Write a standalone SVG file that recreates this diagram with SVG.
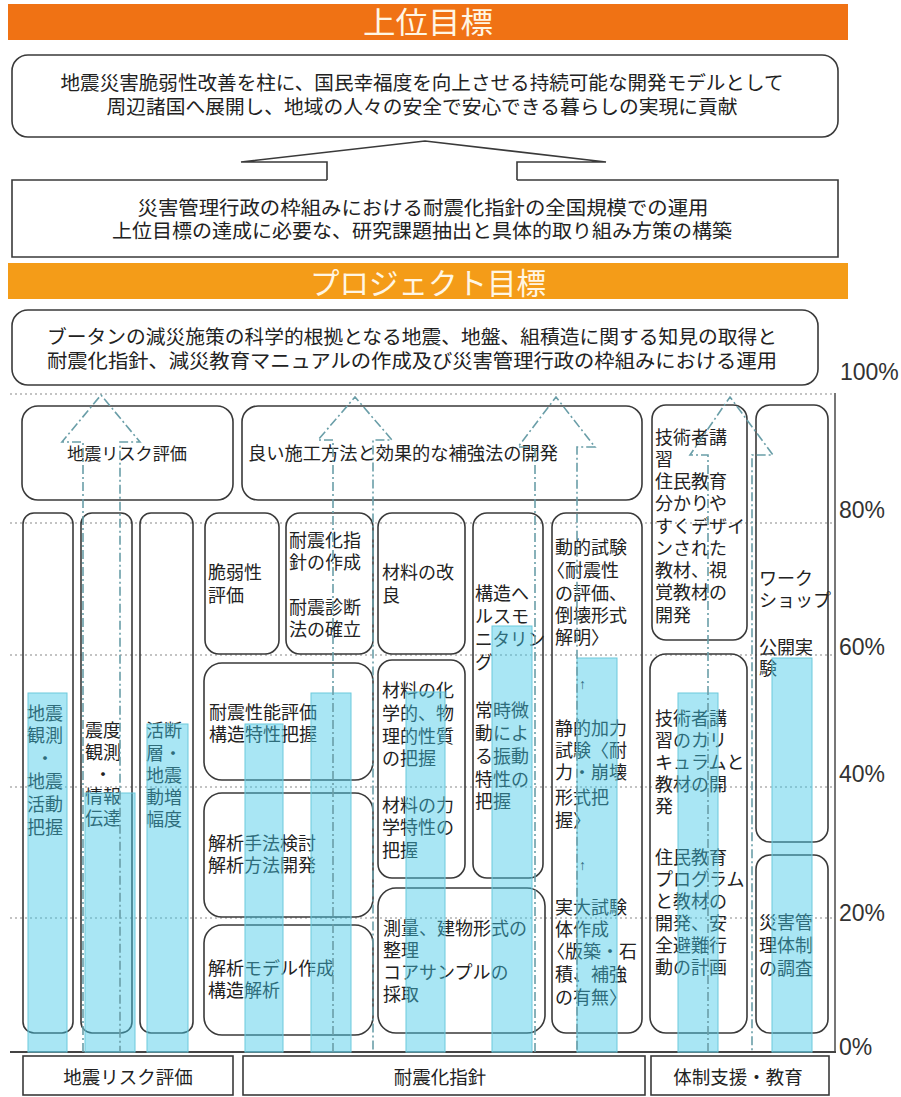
<svg xmlns="http://www.w3.org/2000/svg" width="901" height="1097" viewBox="0 0 901 1097">
<style>
.t{font-family:"Liberation Sans","Noto Sans CJK JP","Noto Sans CJK SC",sans-serif;fill:#222;}
.big{font-size:19.5px;text-anchor:middle;}
.hd{font-family:"Liberation Sans","Noto Sans CJK JP",sans-serif;font-size:30px;fill:#fff6e4;text-anchor:middle;}
.c{font-size:18px;}
.box{fill:none;stroke:#3a3a3a;stroke-width:1.6;}
.sq{fill:#fff;stroke:#3a3a3a;stroke-width:1.6;}
.grid{stroke:#b0b0b0;stroke-width:1.5;stroke-dasharray:2 3;fill:none;}
.bar{fill:#40c8e6;fill-opacity:0.45;stroke:#6cc9dc;stroke-width:1;}
.dd{fill:none;stroke:#6a9ea8;stroke-width:1.6;stroke-dasharray:9 3 2 3;}
.pct{font-family:"Liberation Sans",Arial,sans-serif;font-size:23px;fill:#333;}
.ar{font-size:14px;}
</style>
<rect width="901" height="1097" fill="#fff"/>

<g id="upper-header">
<rect x="8" y="4" width="840" height="36" fill="#f07214"/>
<text class="hd" x="428" y="33" textLength="130" lengthAdjust="spacingAndGlyphs">上位目標</text>
</g>

<g id="upper-goal">
<rect class="box" x="12" y="55" width="826" height="82" rx="16"/>
<text class="t big"><tspan x="422" y="90" textLength="723" lengthAdjust="spacingAndGlyphs">地震災害脆弱性改善を柱に、国民幸福度を向上させる持続可能な開発モデルとして</tspan><tspan x="422" y="114" textLength="631" lengthAdjust="spacingAndGlyphs">周辺諸国へ展開し、地域の人々の安全で安心できる暮らしの実現に貢献</tspan></text>
</g>

<g id="middle-goal">
<path class="box" d="M327,180 H12 V257 H838 V180 H517"/>
<text class="t big" font-size="20"><tspan x="423" y="215" textLength="571" lengthAdjust="spacingAndGlyphs">災害管理行政の枠組みにおける耐震化指針の全国規模での運用</tspan><tspan x="422" y="238" textLength="620" lengthAdjust="spacingAndGlyphs">上位目標の達成に必要な、研究課題抽出と具体的取り組み方策の構築</tspan></text>
</g>

<g id="project-header">
<rect x="8" y="263" width="840" height="36" fill="#f49c18"/>
<text class="hd" x="428" y="294" font-size="29" textLength="236" lengthAdjust="spacingAndGlyphs">プロジェクト目標</text>
</g>

<g id="project-goal">
<rect class="box" x="12" y="310" width="806" height="75" rx="16"/>
<text class="t big"><tspan x="412" y="344" textLength="730" lengthAdjust="spacingAndGlyphs">ブータンの減災施策の科学的根拠となる地震、地盤、組積造に関する知見の取得と</tspan><tspan x="412" y="368" textLength="730" lengthAdjust="spacingAndGlyphs">耐震化指針、減災教育マニュアルの作成及び災害管理行政の枠組みにおける運用</tspan></text>
</g>

<g id="grid">
<line class="grid" x1="10" y1="394" x2="835" y2="394"/>
<line class="grid" x1="10" y1="523" x2="835" y2="523"/>
<line class="grid" x1="10" y1="655" x2="835" y2="655"/>
<line class="grid" x1="10" y1="787" x2="835" y2="787"/>
<line class="grid" x1="10" y1="918" x2="835" y2="918"/>
</g>

<g id="axis">
<line x1="835" y1="393" x2="835" y2="1052" stroke="#555" stroke-width="1.6"/>
<line x1="10" y1="1052" x2="836" y2="1052" stroke="#444" stroke-width="2"/>
<text class="pct" x="840" y="380">100%</text>
<text class="pct" x="839" y="518">80%</text>
<text class="pct" x="839" y="655">60%</text>
<text class="pct" x="839" y="782">40%</text>
<text class="pct" x="839" y="921">20%</text>
<text class="pct" x="839" y="1055">0%</text>
</g>

<g id="n-risk-top">
<rect class="box" x="22" y="406" width="211" height="94" rx="16"/>
<text class="t" x="127" y="460" font-size="17" text-anchor="middle" textLength="120" lengthAdjust="spacingAndGlyphs">地震リスク評価</text>
</g>
<g id="n-construction-top">
<rect class="box" x="242" y="406" width="400" height="94" rx="16"/>
<text class="t" x="248" y="460" font-size="18" textLength="310" lengthAdjust="spacingAndGlyphs">良い施工方法と効果的な補強法の開発</text>
</g>
<g id="n-training-top">
<rect class="box" x="652" y="405" width="95" height="235" rx="14"/>
<text class="t c"><tspan x="655" y="444">技術者講</tspan><tspan x="655" y="466">習</tspan><tspan x="655" y="488">住民教育</tspan><tspan x="655" y="510">分かりや</tspan><tspan x="655" y="533">すくデザイ</tspan><tspan x="655" y="555">ンされた</tspan><tspan x="655" y="577">教材、視</tspan><tspan x="655" y="599">覚教材の</tspan><tspan x="655" y="622">開発</tspan></text>
</g>
<g id="n-workshop">
<rect class="box" x="756" y="405" width="72" height="437" rx="14"/>
<text class="t c"><tspan x="759" y="585">ワーク</tspan><tspan x="759" y="607">ショップ</tspan><tspan x="759" y="654">公開実</tspan><tspan x="759" y="675">験</tspan></text>
</g>
<g id="n-disaster-mgmt">
<rect class="box" x="756" y="855" width="72" height="178" rx="14"/>
<text class="t c"><tspan x="759" y="929">災害管</tspan><tspan x="759" y="952">理体制</tspan><tspan x="759" y="975">の調査</tspan></text>
</g>

<g id="n-col1">
<rect class="box" x="23" y="513" width="50" height="520" rx="11"/>
<text class="t c"><tspan x="27" y="720">地震</tspan><tspan x="27" y="742">観測</tspan><tspan x="36" y="765">・</tspan><tspan x="27" y="788">地震</tspan><tspan x="27" y="811">活動</tspan><tspan x="27" y="834">把握</tspan></text>
</g>
<g id="n-col2">
<rect class="box" x="81" y="513" width="51" height="520" rx="11"/>
<text class="t c"><tspan x="85" y="737">震度</tspan><tspan x="85" y="759">観測</tspan><tspan x="94" y="781">・</tspan><tspan x="85" y="803">情報</tspan><tspan x="85" y="825">伝達</tspan></text>
</g>
<g id="n-col3">
<rect class="box" x="140" y="513" width="53" height="520" rx="11"/>
<text class="t c"><tspan x="146" y="737">活断</tspan><tspan x="146" y="760">層・</tspan><tspan x="146" y="782">地震</tspan><tspan x="146" y="804">動増</tspan><tspan x="146" y="826">幅度</tspan></text>
</g>
<g id="n-vuln">
<rect class="box" x="205" y="513" width="74" height="141" rx="14"/>
<text class="t c"><tspan x="208" y="579">脆弱性</tspan><tspan x="208" y="602">評価</tspan></text>
</g>
<g id="n-guideline">
<rect class="box" x="286" y="513" width="87" height="141" rx="14"/>
<text class="t c"><tspan x="289" y="547">耐震化指</tspan><tspan x="289" y="569">針の作成</tspan><tspan x="289" y="614">耐震診断</tspan><tspan x="289" y="636">法の確立</tspan></text>
</g>
<g id="n-perf">
<rect class="box" x="204" y="663" width="169" height="117" rx="18"/>
<text class="t c"><tspan x="209" y="719">耐震性能評価</tspan><tspan x="209" y="741">構造特性把握</tspan></text>
</g>
<g id="n-method">
<rect class="box" x="204" y="793" width="169" height="124" rx="18"/>
<text class="t c"><tspan x="208" y="850">解析手法検討</tspan><tspan x="208" y="872">解析方法開発</tspan></text>
</g>
<g id="n-model">
<rect class="box" x="204" y="925" width="169" height="110" rx="18"/>
<text class="t c"><tspan x="208" y="975">解析モデル作成</tspan><tspan x="208" y="997">構造解析</tspan></text>
</g>
<g id="n-material">
<rect class="box" x="378" y="513" width="87" height="141" rx="14"/>
<text class="t c"><tspan x="382" y="579">材料の改</tspan><tspan x="382" y="602">良</tspan></text>
</g>
<g id="n-material-prop">
<rect class="box" x="378" y="660" width="87" height="218" rx="14"/>
<text class="t c"><tspan x="382" y="697">材料の化</tspan><tspan x="382" y="720">学的、物</tspan><tspan x="382" y="743">理的性質</tspan><tspan x="382" y="765">の把握</tspan><tspan x="382" y="812">材料の力</tspan><tspan x="382" y="834">学特性の</tspan><tspan x="382" y="857">把握</tspan></text>
</g>
<g id="n-survey">
<rect class="box" x="378" y="888" width="167" height="145" rx="18"/>
<text class="t c"><tspan x="383" y="935">測量、建物形式の</tspan><tspan x="383" y="957">整理</tspan><tspan x="383" y="979">コアサンプルの</tspan><tspan x="383" y="1001">採取</tspan></text>
</g>
<g id="n-monitor">
<rect class="box" x="473" y="513" width="70" height="365" rx="14"/>
<text class="t c"><tspan x="475" y="600">構造へ</tspan><tspan x="475" y="623" textLength="54" lengthAdjust="spacingAndGlyphs">ルスモ</tspan><tspan x="475" y="646" textLength="70" lengthAdjust="spacingAndGlyphs">ニタリン</tspan><tspan x="475" y="669">グ</tspan><tspan x="475" y="717">常時微</tspan><tspan x="475" y="740">動によ</tspan><tspan x="475" y="763">る振動</tspan><tspan x="475" y="786">特性の</tspan><tspan x="475" y="808">把握</tspan></text>
</g>
<g id="n-test">
<rect class="box" x="552" y="513" width="90" height="520" rx="14"/>
<text class="t c"><tspan x="555" y="554">動的試験</tspan><tspan x="547" y="577">〈耐震性</tspan><tspan x="555" y="600">の評価、</tspan><tspan x="555" y="622">倒壊形式</tspan><tspan x="555" y="644">解明〉</tspan><tspan x="579" y="689" class="ar">↑</tspan><tspan x="555" y="735">静的加力</tspan><tspan x="555" y="757">試験〈耐</tspan><tspan x="555" y="779">力・崩壊</tspan><tspan x="555" y="804">形式把</tspan><tspan x="555" y="827">握〉</tspan><tspan x="579" y="870" class="ar">↑</tspan><tspan x="555" y="914">実大試験</tspan><tspan x="555" y="936">体作成</tspan><tspan x="547" y="958">〈版築・石</tspan><tspan x="555" y="981">積、補強</tspan><tspan x="555" y="1004">の有無〉</tspan></text>
</g>
<g id="n-curriculum">
<rect class="box" x="650" y="654" width="97" height="379" rx="16"/>
<text class="t c"><tspan x="655" y="725">技術者講</tspan><tspan x="655" y="747">習のカリ</tspan><tspan x="655" y="769">キュラムと</tspan><tspan x="655" y="791">教材の開</tspan><tspan x="655" y="813">発</tspan><tspan x="655" y="864">住民教育</tspan><tspan x="655" y="886">プログラム</tspan><tspan x="655" y="908">と教材の</tspan><tspan x="655" y="930">開発、安</tspan><tspan x="655" y="952">全避難行</tspan><tspan x="655" y="974">動の計画</tspan></text>
</g>

<g id="n-label-risk">
<rect class="sq" x="23" y="1056" width="210" height="39"/>
<text class="t" x="128" y="1084" font-size="18.5" text-anchor="middle">地震リスク評価</text>
</g>
<g id="n-label-guideline">
<rect class="sq" x="243" y="1056" width="402" height="39"/>
<text class="t" x="440" y="1084" font-size="18.5" text-anchor="middle">耐震化指針</text>
</g>
<g id="n-label-support">
<rect class="sq" x="651" y="1056" width="178" height="39"/>
<text class="t" x="738" y="1084" font-size="18.5" text-anchor="middle">体制支援・教育</text>
</g>

<g id="bars">
<rect class="bar" x="28" y="693" width="39" height="359"/>
<rect class="bar" x="85" y="793" width="50" height="259"/>
<rect class="bar" x="147" y="724" width="41" height="328"/>
<rect class="bar" x="245" y="724" width="38" height="328"/>
<rect class="bar" x="311" y="693" width="40" height="359"/>
<rect class="bar" x="406" y="692" width="39" height="360"/>
<rect class="bar" x="492" y="626" width="40" height="426"/>
<rect class="bar" x="577" y="658" width="40" height="394"/>
<rect class="bar" x="678" y="693" width="40" height="359"/>
<rect class="bar" x="772" y="658" width="40" height="394"/>
</g>

<g id="connectors">
<path d="M327,180 V162 H241 L425,141 L606,162 H517 V180" fill="#fff" stroke="#3a3a3a" stroke-width="1.6"/>
<path class="dd" d="M83,1052 V442 H62 L101,395 L140,442 H120 V1052"/>
<path class="dd" d="M333,1052 V440 H318 L355,397 L392,440 H373 V1052"/>
<path class="dd" d="M535,1052 V447 H518 L556,397 L595,447 H577 V1052"/>
<path class="dd" d="M708,1052 V455 H690 L730,397 L773,455 H752 V1052"/>
</g>
</svg>
